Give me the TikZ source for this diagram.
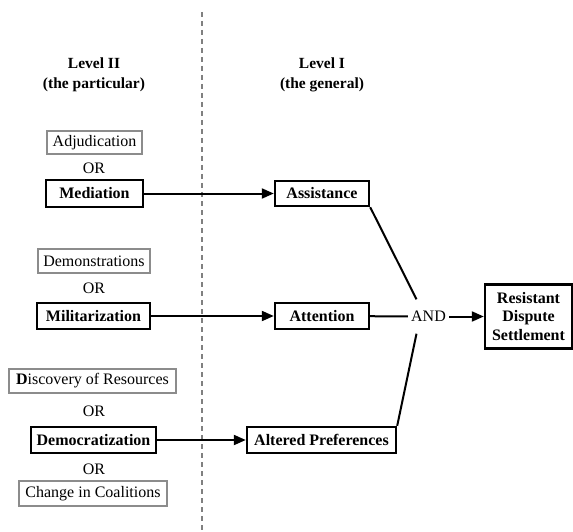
\documentclass[tikz,border=0pt]{standalone}
\usepackage{fontspec}
\setmainfont{Liberation Serif}
\usetikzlibrary{arrows.meta}
\begin{document}
\begin{tikzpicture}[x=1pt,y=-1pt,
  alt/.style={draw=black!45, line width=1.1pt, inner sep=0pt, font=\fontsize{16}{18}\selectfont},
  main/.style={draw=black, line width=2.4pt, inner sep=0pt, font=\bfseries\fontsize{16}{18}\selectfont},
  hdr/.style={align=center, font=\bfseries\fontsize{15.5}{20}\selectfont},
  ortext/.style={font=\fontsize{16}{18}\selectfont, inner sep=0pt},
  conn/.style={line width=2pt},
  arr/.style={line width=2pt, -{Triangle[length=12pt,width=10pt]}}]
\useasboundingbox (0,0) rectangle (573,532);
\fill[white] (0,0) rectangle (573,532);
% dashed divider
\coordinate (dtop) at (202,12);
\coordinate (dbot) at (202,532);
\draw[black!50, line width=1.2pt, dash pattern=on 5pt off 4pt] (dtop) -- (dbot);
% headers
\node[hdr] (h2) at (94,75) {Level II\\(the particular)};
\node[hdr] (h1) at (322,75) {Level I\\(the general)};
% left column
\node[alt, minimum width=95pt, minimum height=23pt] (adj) at (94.5,142.5) {Adjudication};
\node[ortext] (or1) at (94,168) {OR};
\node[main, minimum width=97pt, minimum height=27pt] (med) at (94.5,193.5) {Mediation};
\node[alt, minimum width=112pt, minimum height=24pt] (dem) at (94,261) {Demonstrations};
\node[ortext] (or2) at (94,288) {OR};
\node[main, minimum width=113pt, minimum height=26pt] (mil) at (93.5,316) {Militarization};
\node[alt, minimum width=167pt, minimum height=24pt] (dis) at (92.5,381) {\textbf{D}iscovery of Resources};
\node[ortext] (or3) at (94,411) {OR};
\node[main, minimum width=125pt, minimum height=26pt] (demo) at (93.5,440) {Democratization};
\node[ortext] (or4) at (94,469) {OR};
\node[alt, minimum width=148pt, minimum height=25pt] (chg) at (93,493.5) {Change in Coalitions};
% right column
\node[main, minimum width=94pt, minimum height=25pt] (ass) at (322,193.5) {Assistance};
\node[main, minimum width=94pt, minimum height=26pt] (att) at (322,316) {Attention};
\node[main, minimum width=149pt, minimum height=26pt] (alt) at (321.5,440) {Altered Preferences};
\node[ortext, inner xsep=3pt, minimum height=34pt] (and) at (428.5,316.5) {AND};
\node[main, minimum width=87pt, minimum height=64pt, align=center, font=\bfseries\fontsize{16}{18.5}\selectfont] (res) at (528.5,316.5) {Resistant\\Dispute\\Settlement};
% connectors
\draw[arr] (med) -- (ass);
\draw[arr] (mil) -- (att);
\draw[arr] (demo) -- (alt);
\draw[conn] (att) -- (and);
\draw[arr] (and) -- (res);
\draw[conn] (ass.south east) -- ([xshift=-12pt]and.north);
\draw[conn] (alt.north east) -- ([xshift=-12pt]and.south);
\end{tikzpicture}
\end{document}
